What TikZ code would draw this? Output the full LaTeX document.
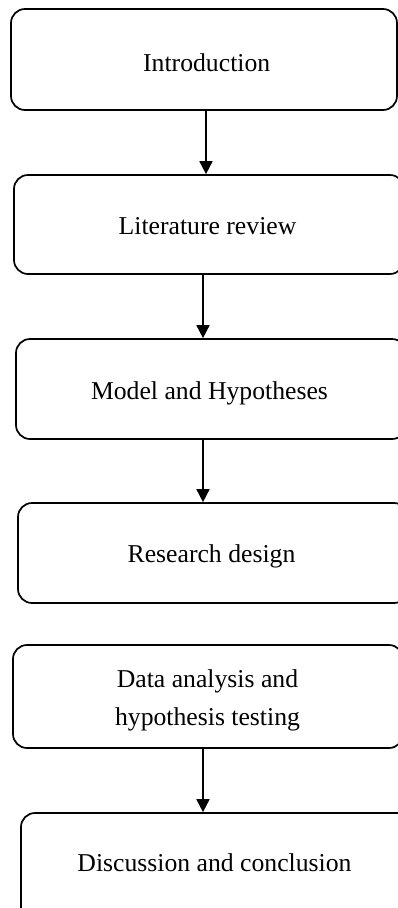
\documentclass[tikz,border=0pt]{standalone}
\usepackage{fontspec}
\setmainfont{Liberation Serif}
\usetikzlibrary{arrows.meta}
\tikzset{
  box/.style={draw=black, line width=1.7pt, rounded corners=14pt, rectangle, inner sep=0pt},
  txt/.style={inner sep=0pt, anchor=base, font=\fontsize{25.7}{36}\selectfont},
  arr/.style={line width=1.7pt, -{Triangle[width=13pt,length=13pt]}}
}
\begin{document}
\begin{tikzpicture}[x=1pt,y=-1pt]
\useasboundingbox (0,0) rectangle (398,908);
\clip (0,0) rectangle (398,908);
% boxes
\node[box, minimum width=386pt, minimum height=101pt] (b1) at (204,59.5) {};
\node[box, minimum width=390pt, minimum height=99pt] (b2) at (209,224.5) {};
\node[box, minimum width=390pt, minimum height=100pt] (b3) at (211,389) {};
\node[box, minimum width=390pt, minimum height=100pt] (b4) at (213,553) {};
\node[box, minimum width=390pt, minimum height=103pt] (b5) at (208,696.5) {};
\node[box, minimum width=390pt, minimum height=110pt] (b6) at (216,868) {};
% texts
\node[txt] (t1) at (206.7,71) {Introduction};
\node[txt] (t2) at (207.5,234) {Literature review};
\node[txt] (t3) at (209.5,399) {Model and Hypotheses};
\node[txt] (t4) at (211.5,562.7) {Research design};
\node[txt] (t5a) at (207.5,687.7) {Data analysis and};
\node[txt] (t5b) at (207.5,725) {hypothesis testing};
\node[txt] (t6) at (214.5,871.7) {Discussion and conclusion};
% arrow columns
\coordinate (c1) at (206,0);
\coordinate (c2) at (203,0);
\draw[arr] (b1.south -| c1) -- (b2.north -| c1);
\draw[arr] (b2.south -| c2) -- (b3.north -| c2);
\draw[arr] (b3.south -| c2) -- (b4.north -| c2);
\draw[arr] (b5.south -| c2) -- (b6.north -| c2);
\end{tikzpicture}
\end{document}
